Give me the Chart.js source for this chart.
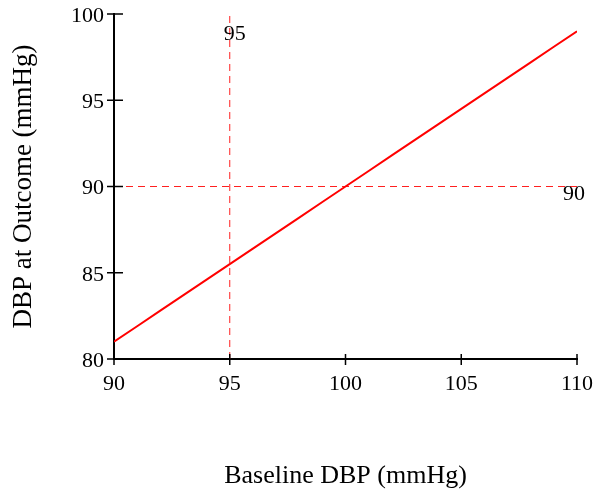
<!DOCTYPE html>
<html>
<head>
<meta charset="utf-8">
<script src="https://cdn.jsdelivr.net/npm/chart.js@4.4.1/dist/chart.umd.min.js"></script>
<style>
  html, body { margin: 0; padding: 0; background: #fff; }
  #wrap { width: 598px; height: 493px; }
</style>
</head>
<body>
<div id="wrap"><canvas id="myChart" width="598" height="493"></canvas></div>
<script>
// baseline DBP (x) and DBP at outcome (y)
const baseline = [90, 91, 92, 93, 94, 95, 96, 97, 98, 99, 100, 101, 102, 103, 104, 105, 106, 107, 108, 109, 110];
const outcome = [81.0, 81.9, 82.8, 83.7, 84.6, 85.5, 86.4, 87.3, 88.2, 89.1, 90.0, 90.9, 91.8, 92.7, 93.6, 94.5, 95.4, 96.3, 97.2, 98.1, 99.0];

// reference lines
const refX = 95;
const refY = 90;
const xRange = [90, 110];
const yRange = [80, 100];
const tickStep = 5;

const serif = "'Liberation Serif', 'Times New Roman', serif";

const ctx = document.getElementById("myChart").getContext("2d");

// tick marks crossing the axes, plus the two reference labels
const axisMarks = {
  id: "axisMarks",
  afterDraw(chart) {
    const { ctx } = chart;
    const x = chart.scales.x;
    const y = chart.scales.y;
    ctx.save();
    ctx.strokeStyle = "#000";
    ctx.lineWidth = 1.5;
    ctx.beginPath();
    for (let v = xRange[0]; v <= xRange[1]; v += tickStep) {
      const px = x.getPixelForValue(v);
      ctx.moveTo(px, y.bottom - 5);
      ctx.lineTo(px, y.bottom + 6);
    }
    for (let v = yRange[0]; v <= yRange[1]; v += tickStep) {
      const py = y.getPixelForValue(v);
      ctx.moveTo(x.left - 7, py);
      ctx.lineTo(x.left + 9, py);
    }
    ctx.stroke();

    ctx.fillStyle = "#000";
    ctx.font = "22px " + serif;
    ctx.textAlign = "left";
    ctx.textBaseline = "alphabetic";
    ctx.fillText(String(refX), x.getPixelForValue(refX) - 6, y.getPixelForValue(yRange[1]) + 26);
    ctx.fillText(String(refY), x.getPixelForValue(xRange[1]) - 14, y.getPixelForValue(refY) + 13);
    ctx.restore();
  },
};

// let the layout padding alone decide the plot edges
function noOverflow(scale) {
  scale.paddingTop = 0;
  scale.paddingBottom = 0;
  scale.paddingLeft = 0;
  scale.paddingRight = 0;
}

new Chart(ctx, {
  type: "line",
  data: {
    datasets: [
      {
        label: "Outcome",
        data: baseline.map((b, i) => ({ x: b, y: outcome[i] })),
        borderColor: "#ff0000",
        borderWidth: 2,
        pointRadius: 0,
        fill: false,
      },
      {
        label: "x ref",
        data: [{ x: refX, y: yRange[0] }, { x: refX, y: yRange[1] }],
        borderColor: "#ff2020",
        borderWidth: 1,
        borderDash: [7, 5],
        pointRadius: 0,
      },
      {
        label: "y ref",
        data: [{ x: xRange[0], y: refY }, { x: xRange[1], y: refY }],
        borderColor: "#ff2020",
        borderWidth: 1,
        borderDash: [7, 5],
        pointRadius: 0,
      },
    ],
  },
  options: {
    responsive: false,
    animation: false,
    layout: { padding: { top: 14, right: 21, left: 0, bottom: 0 } },
    plugins: {
      legend: { display: false },
      tooltip: { enabled: false },
    },
    scales: {
      x: {
        type: "linear",
        min: xRange[0],
        max: xRange[1],
        grid: { display: false, drawTicks: false },
        border: { display: true, color: "#000", width: 2 },
        ticks: {
          stepSize: tickStep,
          color: "#000",
          padding: 12,
          font: { family: serif, size: 22 },
        },
        title: {
          display: true,
          text: "Baseline DBP (mmHg)",
          color: "#000",
          font: { family: serif, size: 26 },
          padding: { top: 0, bottom: 1 },
        },
        afterFit(scale) { scale.height = 134; noOverflow(scale); },
      },
      y: {
        type: "linear",
        min: yRange[0],
        max: yRange[1],
        grid: { display: false, drawTicks: false },
        border: { display: true, color: "#000", width: 2 },
        ticks: {
          stepSize: tickStep,
          color: "#000",
          padding: 10,
          labelOffset: 2,
          font: { family: serif, size: 22 },
        },
        title: {
          display: true,
          text: "DBP at Outcome (mmHg)",
          color: "#000",
          font: { family: serif, size: 27 },
          padding: { top: 8, bottom: 0 },
        },
        afterFit(scale) { scale.width = 114; noOverflow(scale); },
      },
    },
  },
  plugins: [axisMarks],
});
</script>
</body>
</html>
